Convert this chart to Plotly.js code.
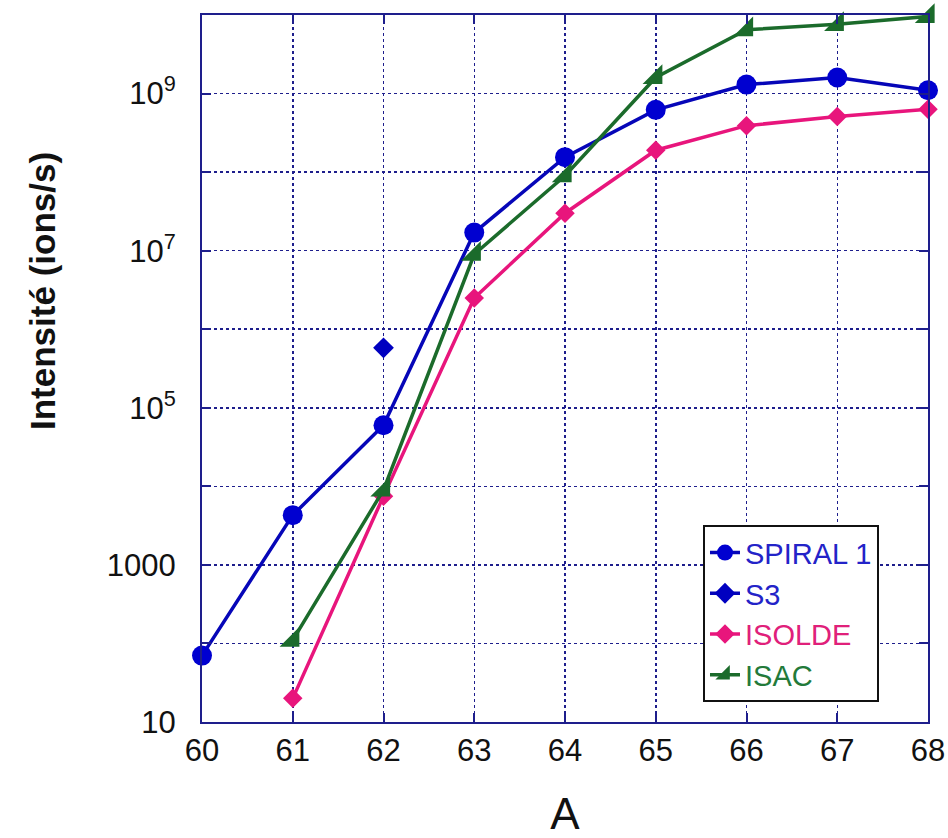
<!DOCTYPE html>
<html>
<head>
<meta charset="utf-8">
<script src="https://cdn.plot.ly/plotly-3.0.1.min.js"></script>
<style>
  html, body { margin: 0; padding: 0; background: #ffffff; }
  #chart { width: 948px; height: 838px; }
</style>
</head>
<body>
<div id="chart"></div>
<script>
// Mass number A
const massSpiral = [60, 61, 62, 63, 64, 65, 66, 67, 68];
const massS3 = [62];
const massIsolde = [61, 62, 63, 64, 65, 66, 67, 68];
const massIsac = [61, 62, 63, 64, 65, 66, 67, 68];

// Beam intensities (ions/s)
const spiral1 = [70, 4300, 6.0e4, 1.7e7, 1.55e8, 6.2e8, 1.3e9, 1.6e9, 1.1e9];
const s3 = [5.8e5];
const isolde = [20, 7500, 2.5e6, 3.0e7, 1.9e8, 3.9e8, 5.1e8, 6.3e8];
const isac = [110, 9000, 9.0e6, 9.0e7, 1.6e9, 6.5e9, 7.6e9, 9.6e9];

// Labelled decades and the unlabelled decades between them
const yTickVals = [10, 1000, 1e5, 1e7, 1e9];
const yTickText = ['10', '1000', '10<sup>5</sup>', '10<sup>7</sup>', '10<sup>9</sup>'];
const yMinorVals = [100, 1e4, 1e6, 1e8];
const xTickVals = [60, 61, 62, 63, 64, 65, 66, 67, 68];

const BLUE = '#0606b8';
const PINK = '#e8157c';
const GREEN = '#1b6b2b';
const NAVY = '#1e1e8c';
const FONT = 'Liberation Sans, Arial, sans-serif';

const traces = [
  {
    x: massSpiral, y: spiral1, name: '<span style="color:#2323c8">SPIRAL 1</span>',
    mode: 'lines+markers', cliponaxis: false,
    line: { color: BLUE, width: 3.5 },
    marker: { symbol: 'circle', size: 20, color: '#0000d0' }
  },
  {
    x: massS3, y: s3, name: '<span style="color:#2323c8">S3</span>',
    mode: 'lines+markers', cliponaxis: false,
    line: { color: BLUE, width: 3.5 },
    marker: { symbol: 'diamond', size: 16, color: '#0000c0' }
  },
  {
    x: massIsolde, y: isolde, name: '<span style="color:#e0207a">ISOLDE</span>',
    mode: 'lines+markers', cliponaxis: false,
    line: { color: PINK, width: 3.5 },
    marker: { symbol: 'diamond', size: 15, color: PINK }
  },
  {
    x: massIsac, y: isac, name: '<span style="color:#237a3a">ISAC</span>',
    mode: 'lines+markers', cliponaxis: false,
    line: { color: GREEN, width: 3.5 },
    marker: { symbol: 'triangle-se', size: 22, color: GREEN }
  }
];

const tickFont = { family: FONT, size: 31, color: '#111111' };

const layout = {
  width: 948, height: 838,
  margin: { l: 202, r: 20, t: 15, b: 116 },
  paper_bgcolor: '#ffffff', plot_bgcolor: '#ffffff',
  showlegend: true,
  legend: {
    x: 0.9325, xanchor: 'right', y: 0.028, yanchor: 'bottom',
    bgcolor: '#ffffff', bordercolor: '#111111', borderwidth: 2,
    font: { family: FONT, size: 29 },
    tracegroupgap: 0
  },
  xaxis: {
    range: [60, 68], tickvals: xTickVals,
    tickfont: tickFont,
    showline: true, linecolor: NAVY, linewidth: 2, mirror: 'ticks',
    ticks: 'inside', ticklen: 9, tickwidth: 2, tickcolor: NAVY,
    showgrid: true, gridcolor: NAVY, gridwidth: 1.5, griddash: 'dot',
    zeroline: false,
    title: { text: 'A', font: { family: FONT, size: 44, color: '#111111' }, standoff: 32 }
  },
  yaxis: {
    type: 'log', range: [1, 10],
    tickvals: yTickVals, ticktext: yTickText,
    tickfont: tickFont, ticklabelstandoff: 18,
    showline: true, linecolor: NAVY, linewidth: 2, mirror: 'ticks',
    ticks: 'inside', ticklen: 9, tickwidth: 2, tickcolor: NAVY,
    showgrid: true, gridcolor: NAVY, gridwidth: 1.5, griddash: 'dot',
    zeroline: false,
    minor: {
      tickvals: yMinorVals, ticks: 'inside', ticklen: 9, tickwidth: 2, tickcolor: NAVY,
      showgrid: true, gridcolor: NAVY, gridwidth: 1.5, griddash: 'dot'
    }
  },
  annotations: [
    {
      text: '<b>Intensité (ions/s)</b>', textangle: -90,
      xref: 'paper', yref: 'paper', x: -0.2204, y: 0.6096,
      xanchor: 'center', yanchor: 'middle', showarrow: false,
      font: { family: FONT, size: 35, color: '#111111' }
    }
  ]
};

Plotly.newPlot('chart', traces, layout, { displayModeBar: false, staticPlot: true });
</script>
</body>
</html>
